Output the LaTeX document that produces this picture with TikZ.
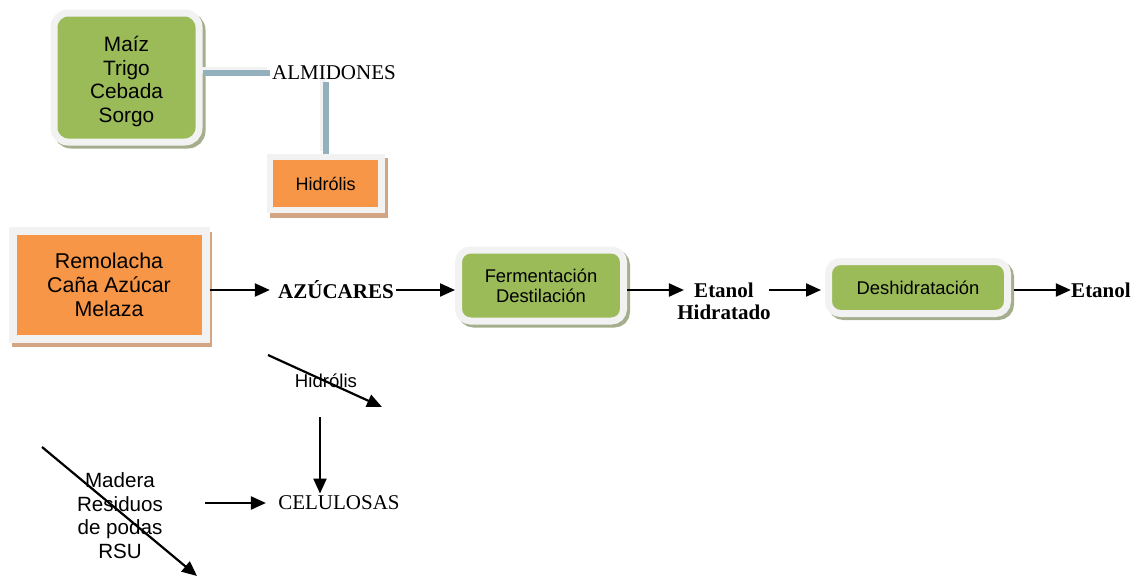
\documentclass[tikz,border=0pt]{standalone}
\usepackage{fontspec}
\setmainfont{Liberation Serif}
\setsansfont{Liberation Sans}
\usepackage{tikz}
\usetikzlibrary{
    arrows.meta,
    shadows,
    calc,
    positioning
}
\definecolor{verde}{RGB}{155,187,89}
\definecolor{naranja}{RGB}{247,150,70}
\definecolor{marco}{RGB}{242,242,242}
\definecolor{sombraverde}{RGB}{165,174,140}
\definecolor{sombranaranja}{RGB}{212,165,130}
\definecolor{azulgris}{RGB}{147,177,189}

\begin{document}
\begin{tikzpicture}[x=0.5pt, y=-0.5pt,
    caja/.style={draw=marco, line width=3.5pt, align=center, inner sep=0pt},
    cajaverde/.style={caja, fill=verde, rounded corners=6pt,
        drop shadow={shadow xshift=1.5pt, shadow yshift=-1.5pt, opacity=1,
            fill=sombraverde, draw=sombraverde, line width=3.5pt}},
    cajanaranja/.style={caja, fill=naranja,
        drop shadow={shadow xshift=1.5pt, shadow yshift=-2pt, opacity=1,
            fill=sombranaranja, draw=sombranaranja, line width=3.5pt}},
    flecha/.style={-{Triangle[length=7.5pt, width=6.5pt]}, line width=1.1pt},
    conector/.style={line width=3pt, draw=azulgris,
        preaction={draw=marco, line width=3pt, transform canvas={shift={(-1.5pt,1.5pt)}}}},
    texto/.style={font=\fontsize{10.5}{12}\selectfont, inner sep=1pt},
    negrita/.style={font=\bfseries\fontsize{10.5}{11}\selectfont, inner sep=0pt, align=center}
]
                        \useasboundingbox (0,0) rectangle (1137,579);

                        \node[texto] (almidones) at (334, 73) {ALMIDONES};
                        \node[cajaverde, minimum width=72.5pt, minimum height=64.5pt, rounded corners=7pt,
                            text height=45pt, text depth=0pt,
                            font=\sffamily\fontsize{10.4}{11.8}\selectfont] (maiz) at (126.5, 77.5)
                            {Maíz\\Trigo\\Cebada\\Sorgo};
                        \node[cajanaranja, minimum width=55.75pt, minimum height=26.5pt, line width=3.25pt,
                            font=\sffamily\fontsize{9}{10}\selectfont] (hidrolis) at (325.75, 183.5) {Hidrólis};

                        \node[cajanaranja, minimum width=96.5pt, minimum height=54pt, line width=4pt,
                            font=\sffamily\fontsize{10.7}{12}\selectfont] (remolacha) at (109, 285)
                            {Remolacha\\Caña Azúcar\\Melaza};
                        \node[negrita, inner sep=1pt] (azucares) at (336, 290) {AZÚCARES};
                        \node[cajaverde, minimum width=82.5pt, minimum height=35.5pt,
                            font=\sffamily\fontsize{9.2}{10}\selectfont] (fermentacion) at (541, 285.5)
                            {Fermentación\\Destilación};
                        \node[negrita] (etanolh) at (724, 301) {Etanol\\Hidratado};
                        \node[cajaverde, minimum width=89.5pt, minimum height=26pt,
                            font=\sffamily\fontsize{9.2}{10}\selectfont] (deshidratacion) at (918, 287.5)
                            {Deshidratación};
                        \node[negrita] (etanol) at (1101, 290) {Etanol};

                        \node[font=\sffamily\fontsize{9.3}{10}\selectfont, inner sep=0pt] (hidrolis2) at (326, 381) {Hidrólis};
                        \node[texto] (celulosas) at (339, 503) {CELULOSAS};
                        \node[align=center, inner sep=0pt, minimum width=85pt,
                            font=\sffamily\fontsize{10.3}{11.85}\selectfont] (madera) at (120, 515.5)
                            {Madera\\Residuos\\de podas\\RSU};

                        \coordinate (h1) at (268, 355);
                        \coordinate (h2) at (382, 407);
                        \coordinate (c1) at (320, 417);
                        \coordinate (m1) at (42, 447);
                        \coordinate (m2) at (197, 576);

                        % almidones
                        \draw[conector] (maiz.east |- almidones) -- (almidones.west);
                        \draw[conector] (almidones.south -| hidrolis.north) -- (hidrolis.north);
                        \node[cajanaranja, minimum width=55.75pt, minimum height=26.5pt, line width=3.25pt,
                            font=\sffamily\fontsize{9}{10}\selectfont] at (hidrolis) {Hidrólis};

                        \draw
                        (remolacha.east |- azucares) edge[flecha, shorten >=3pt] (azucares.west)
                        (azucares.east) edge[flecha] (fermentacion.west |- azucares)
                        (fermentacion.east |- etanol) edge[flecha] ([xshift=3.5pt]etanolh.west |- etanol)
                        ([xshift=-1pt]etanolh.east |- etanol) edge[flecha] ([xshift=-2pt]deshidratacion.west |- etanol)
                        ([xshift=1.5pt]deshidratacion.east |- etanol) edge[flecha] (etanol.west);

                        % celulosas
                        \draw
                        (h1) edge[flecha] (h2)
                        (c1) edge[flecha] (c1 |- celulosas.north)
                        (madera.east |- celulosas) edge[flecha, shorten >=5pt] (celulosas.west)
                        (m1) edge[flecha] (m2);
                    \end{tikzpicture}
\end{document}
